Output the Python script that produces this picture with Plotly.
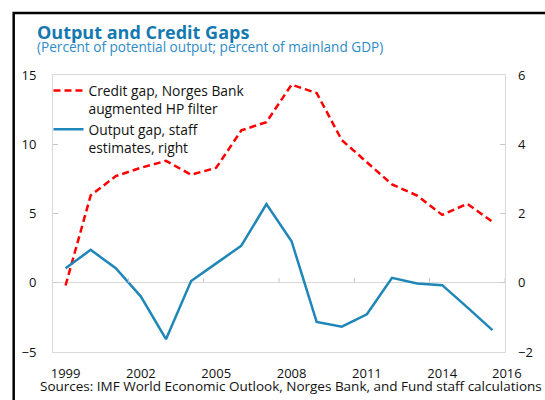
import plotly.graph_objects as go

# ---- data ----
years = list(range(1999, 2017))
credit_gap = [-0.2, 6.3, 7.7, 8.3, 8.8, 7.8, 8.3, 11.0, 11.6, 14.3, 13.7, 10.3, 8.7,
              7.1, 6.3, 4.9, 5.7, 4.4]
output_gap = [0.42, 0.95, 0.42, -0.40, -1.63, 0.05, 0.56, 1.07, 2.27, 1.20, -1.13,
              -1.27, -0.91, 0.14, -0.02, -0.07, -0.71, -1.37]
x_tick_years = [1999, 2002, 2005, 2008, 2011, 2014]
last_label = "2016"
left_ticks = [-5, 0, 5, 10, 15]
right_ticks = [-2, 0, 2, 4, 6]

FONT = "Segoe UI, Open Sans, sans-serif"
RED = "#ff0000"
BLUE = "#1f86b8"
TITLE_BLUE = "#1479b0"
SUB_BLUE = "#2e8bc6"
GRID = "#d9d9d9"

fig = go.Figure()
fig.add_trace(go.Scatter(
    x=years, y=credit_gap, mode="lines",
    name="Credit gap, Norges Bank<br>augmented HP filter",
    line=dict(color=RED, width=2.5, dash="7px,4px"),
    yaxis="y"))
fig.add_trace(go.Scatter(
    x=years, y=output_gap, mode="lines",
    name="Output gap, staff<br>estimates, right",
    line=dict(color=BLUE, width=2.5),
    yaxis="y2"))

# small category-boundary tick marks sitting on the zero line
boundary_ticks = [y + 0.5 for y in years[2::3]]
shapes = []
for bx in boundary_ticks:
    shapes.append(dict(type="line", xref="x", yref="y", x0=bx, x1=bx, y0=0, y1=0.35,
                       line=dict(color="#c8c8c8", width=1)))
# outer black frame (left and top visible)
shapes.append(dict(type="rect", xref="paper", yref="paper",
                   x0=-0.087, x1=1.3, y0=-0.4, y1=1.2238,
                   line=dict(color="black", width=2.5), layer="above"))

annotations = [
    dict(text="<b>Output and Credit Gaps</b>", xref="paper", yref="paper",
         x=-0.040, y=1.155, xanchor="left", yanchor="middle", showarrow=False,
         font=dict(family=FONT, size=18, color=TITLE_BLUE)),
    dict(text="(Percent of potential output; percent of mainland GDP)", xref="paper",
         yref="paper", x=-0.040, y=1.1011, xanchor="left", yanchor="middle",
         showarrow=False, font=dict(family=FONT, size=13.6, color=SUB_BLUE)),
    dict(text="Sources: IMF World Economic Outlook, Norges Bank, and Fund staff calculations",
         xref="paper", yref="paper", x=-0.033, y=-0.1227, xanchor="left",
         yanchor="middle", showarrow=False,
         font=dict(family=FONT, size=13.5, color="#111111")),
    dict(text=last_label, xref="paper", yref="paper", x=1.0044, y=-0.0758,
         xanchor="center", yanchor="middle", showarrow=False,
         font=dict(family=FONT, size=13, color="#111111")),
]

fig.update_layout(
    width=545, height=400,
    margin=dict(l=53, r=38, t=75, b=48),
    paper_bgcolor="white", plot_bgcolor="white",
    font=dict(family=FONT, size=13, color="#111111"),
    showlegend=True,
    legend=dict(x=-0.010, y=1.0, xanchor="left", yanchor="top", valign="top",
                bgcolor="rgba(0,0,0,0)", font=dict(family=FONT, size=13.8),
                itemwidth=30, tracegroupgap=2),
    xaxis=dict(range=[1998.5, 2016.5], tickvals=x_tick_years,
               ticktext=[str(v) for v in x_tick_years], ticks="",
               showgrid=False, zeroline=False, showline=True, mirror=True,
               linecolor=GRID, linewidth=1, ticklabelstandoff=9,
               tickfont=dict(family=FONT, size=13)),
    yaxis=dict(range=[-5, 15], tickvals=left_ticks, ticks="inside", ticklen=5,
               tickcolor="#c8c8c8", showgrid=False, zeroline=True,
               zerolinecolor=GRID, zerolinewidth=1, showline=True, mirror=True,
               linecolor=GRID, linewidth=1, ticklabelstandoff=13,
               tickfont=dict(family=FONT, size=13)),
    yaxis2=dict(range=[-2, 6], tickvals=right_ticks, overlaying="y", side="right",
                ticks="inside", ticklen=5, tickcolor="#c8c8c8", showgrid=False,
                zeroline=False, showline=False, ticklabelstandoff=12,
                tickfont=dict(family=FONT, size=13)),
    shapes=shapes,
    annotations=annotations,
)

fig.write_html("out.html",
               config={"displayModeBar": False},
               post_script="document.body.style.margin='0px';"
                           "document.body.style.overflow='hidden';")
